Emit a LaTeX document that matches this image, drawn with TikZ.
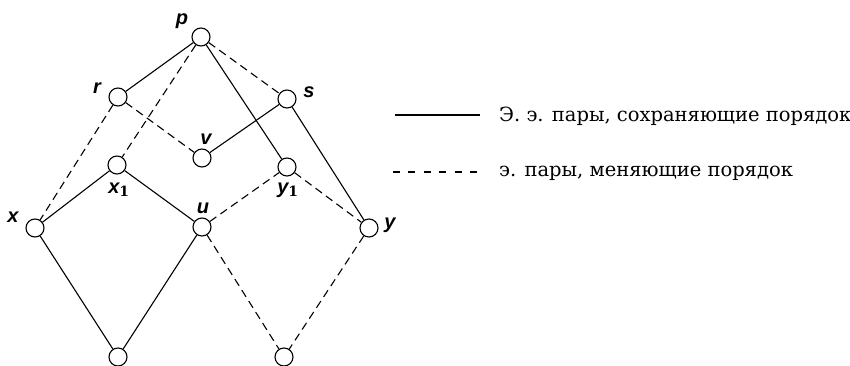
\documentclass[tikz,border=0pt]{standalone}
\usepackage{fontspec}
\setmainfont{DejaVu Serif}
\newfontfamily\lblfont{Liberation Sans}
\begin{document}
\begin{tikzpicture}[x=1pt,y=-1pt,
  vtx/.style={circle,draw,line width=1.1pt,minimum size=18pt,inner sep=0pt},
  sol/.style={line width=1.1pt},
  dsh/.style={line width=1.1pt,dash pattern=on 8pt off 5pt},
  lbl/.style={font=\lblfont\bfseries\itshape\fontsize{20}{20}\selectfont,inner sep=0pt},
  leg/.style={font=\fontsize{19.5}{19.5}\selectfont,anchor=base west,inner sep=0pt}]
\useasboundingbox (0,0) rectangle (850,366);
\node[vtx] (p) at (201,37) {};
\node[vtx] (r) at (118,97) {};
\node[vtx] (s) at (287,99) {};
\node[vtx] (v) at (202,158) {};
\node[vtx] (x1) at (117,165) {};
\node[vtx] (y1) at (287,167) {};
\node[vtx] (x) at (35,228) {};
\node[vtx] (u) at (202,227) {};
\node[vtx] (y) at (369,228) {};
\node[vtx] (bl) at (118,357) {};
\node[vtx] (br) at (284,357) {};
% solid
\draw[sol] (p) -- (r);
\draw[sol] (p) -- (y1);
\draw[sol] (s) -- (v);
\draw[sol] (s) -- (y);
\draw[sol] (x) -- (x1);
\draw[sol] (x1) -- (u);
\draw[sol] (x) -- (bl);
\draw[sol] (u) -- (bl);
% dashed
\draw[dsh] (p) -- (s);
\draw[dsh] (p) -- (x1);
\draw[dsh] (r) -- (x);
\draw[dsh] (r) -- (v);
\draw[dsh] (u) -- (y1);
\draw[dsh] (y1) -- (y);
\draw[dsh] (u) -- (br);
\draw[dsh] (y) -- (br);
% labels
\node[lbl] (lp) at (182,21) {p};
\node[lbl] (lr) at (97,88) {r};
\node[lbl] (ls) at (309,92) {s};
\node[lbl] (lv) at (206,139) {v};
\node[lbl] (lx1) at (119,190) {x$_{\mathbf 1}$};
\node[lbl] (ly1) at (288,190) {y$_{\mathbf 1}$};
\node[lbl] (lx) at (13,217) {x};
\node[lbl] (lu) at (203,208) {u};
\node[lbl] (ly) at (390,225) {y};
% legend
\coordinate (a1) at (395,115);
\coordinate (a2) at (480,115);
\draw[line width=1.1pt] (a1) -- (a2);
\node[leg] (t1) at (499,122) {Э. э. пары, сохраняющие порядок};
\coordinate (b1) at (393,172);
\coordinate (b2) at (477,172);
\draw[line width=1.1pt,dash pattern=on 7pt off 8.4pt] (b1) -- (b2);
\node[leg] (t2) at (499,176) {э. пары, меняющие порядок};
\end{tikzpicture}
\end{document}
